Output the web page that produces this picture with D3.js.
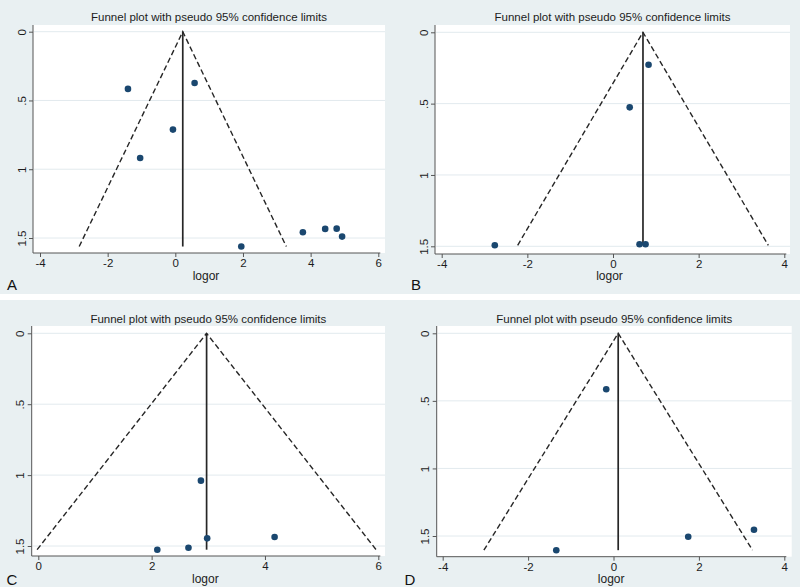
<!DOCTYPE html>
<html>
<head>
<meta charset="utf-8">
<script src="https://cdn.jsdelivr.net/npm/d3@7"></script>
<style>
  body { margin: 0; background: #fff; }
  svg { display: block; font-family: Arial, "Liberation Sans", sans-serif; }
</style>
</head>
<body>
<div id="chart"></div>
<script>
// values
var panelLabels = ["A", "B", "C", "D"];
var logorA = [-1.40, 0.57, -0.07, -1.04, 1.95, 3.77, 4.43, 4.77, 4.93];
var seA    = [0.416, 0.373, 0.712, 0.918, 1.562, 1.458, 1.434, 1.432, 1.490];
var logorB = [0.83, 0.39, -2.76, 0.62, 0.76];
var seB    = [0.227, 0.526, 1.493, 1.486, 1.486];
var logorC = [2.87, 2.98, 4.17, 2.65, 2.10];
var seC    = [1.039, 1.446, 1.437, 1.512, 1.526];
var logorD = [-0.17, -1.34, 1.75, 3.29];
var seD    = [0.414, 1.605, 1.505, 1.454];
var pooled = [0.22, 0.70, 2.97, 0.11];
var xTicksA = [-4, -2, 0, 2, 4, 6];
var xTicksB = [-4, -2, 0, 2, 4];
var xTicksC = [0, 2, 4, 6];
var xTicksD = [-4, -2, 0, 2, 4];
var yTicks = [0, 0.5, 1, 1.5];
var yTickLabels = ["0", ".5", "1", "1.5"];
var titleText = "Funnel plot with pseudo 95% confidence limits";
var xTitle = "logor";

var W = 800, H = 587;
var bg = "#e9f0f2", grid = "#e2eaee", ink = "#1c1c1c", dotColor = "#1a476f";

// panel geometry (pixels, local to each panel)
var layout = [
  {ox: 0,   oy: 0,   left: 33,   right: 385,   top: 25, bottom: 253,   xr: [40, 378.3],   yr: [31.7, 238], titleY: 17,   xtY: 276,   labX: 12, labY: 285},
  {ox: 400, oy: 0,   left: 35,   right: 390,   top: 25, bottom: 254,   xr: [41.7, 384.3], yr: [32.3, 246.3], titleY: 17, xtY: 276,   labX: 16, labY: 285},
  {ox: 0,   oy: 300, left: 31.7, right: 385,   top: 26, bottom: 256,   xr: [38.3, 378.3], yr: [33.3, 246], titleY: 19.3, xtY: 278.3, labX: 12, labY: 280},
  {ox: 400, oy: 300, left: 36.7, right: 391.7, top: 26, bottom: 256.7, xr: [42.7, 384.3], yr: [33.3, 236], titleY: 19.3, xtY: 278.3, labX: 10, labY: 280}
];
var panels = [
  {x: logorA, se: seA, xt: xTicksA},
  {x: logorB, se: seB, xt: xTicksB},
  {x: logorC, se: seC, xt: xTicksC},
  {x: logorD, se: seD, xt: xTicksD}
];

var svg = d3.select("#chart").append("svg")
  .attr("width", W).attr("height", H);

svg.append("rect").attr("width", W).attr("height", H).attr("fill", bg);
// thin white seam between the two rows
svg.append("rect").attr("x", 0).attr("y", 294).attr("width", W).attr("height", 6).attr("fill", "#fff");

panels.forEach(function(p, i) {
  var L = layout[i];
  var g = svg.append("g").attr("transform", "translate(" + L.ox + "," + L.oy + ")");
  var xt = p.xt;

  var x = d3.scaleLinear().domain([xt[0], xt[xt.length - 1]]).range(L.xr);
  var y = d3.scaleLinear().domain([0, 1.5]).range(L.yr);

  g.append("rect")
    .attr("x", L.left).attr("y", L.top)
    .attr("width", L.right - L.left).attr("height", L.bottom - L.top)
    .attr("fill", "#fff");

  // gridlines
  g.selectAll(".grid").data(yTicks).enter().append("line")
    .attr("x1", L.left + 1).attr("x2", L.right)
    .attr("y1", function(d) { return y(d); }).attr("y2", function(d) { return y(d); })
    .attr("stroke", grid).attr("stroke-width", 1);

  // funnel
  var pe = pooled[i];
  var maxSe = d3.max(p.se);
  var line = d3.line().x(function(d) { return x(d[0]); }).y(function(d) { return y(d[1]); });
  g.append("path")
    .attr("d", line([[pe - 1.96 * maxSe, maxSe], [pe, 0], [pe + 1.96 * maxSe, maxSe]]))
    .attr("fill", "none").attr("stroke", "#262626").attr("stroke-width", 1.4)
    .attr("stroke-dasharray", "5.5,3");
  g.append("path")
    .attr("d", line([[pe, 0], [pe, maxSe]]))
    .attr("fill", "none").attr("stroke", "#262626").attr("stroke-width", 1.7);

  // studies
  g.selectAll(".dot").data(d3.range(p.x.length)).enter().append("circle")
    .attr("cx", function(k) { return x(p.x[k]); })
    .attr("cy", function(k) { return y(p.se[k]); })
    .attr("r", 3.3).attr("fill", dotColor);

  // axes
  var xAxis = d3.axisBottom(x).tickValues(xt).tickSize(4).tickSizeOuter(0).tickPadding(2)
    .tickFormat(d3.format("d"));
  var gx = g.append("g").attr("transform", "translate(0," + L.bottom + ")").call(xAxis);
  gx.select(".domain").remove();
  gx.selectAll("line").attr("stroke", "#555");
  gx.selectAll("text").attr("fill", ink).style("font-size", "11.5px")
    .text(function(d) { return d < 0 ? "-" + Math.abs(d) : d; });
  g.append("line")
    .attr("x1", L.left).attr("x2", L.xr[1] + 2)
    .attr("y1", L.bottom).attr("y2", L.bottom)
    .attr("stroke", "#555").attr("stroke-width", 1);

  var yAxis = d3.axisLeft(y).tickValues(yTicks).tickSize(4).tickSizeOuter(0)
    .tickFormat(function(d, k) { return yTickLabels[k]; });
  var gy = g.append("g").attr("transform", "translate(" + L.left + ",0)").call(yAxis);
  gy.select(".domain").remove();
  gy.selectAll("line").attr("stroke", "#555");
  gy.selectAll("text")
    .attr("transform", "rotate(-90)")
    .attr("x", 0).attr("y", -7.3).attr("dy", null)
    .attr("text-anchor", "middle")
    .attr("fill", ink).style("font-size", "11.5px");
  g.append("line")
    .attr("x1", L.left).attr("x2", L.left)
    .attr("y1", L.top).attr("y2", L.bottom)
    .attr("stroke", "#555").attr("stroke-width", 1);

  var cx = (L.left + L.right) / 2;
  g.append("text").attr("x", cx).attr("y", L.titleY).attr("dy", "0.35em")
    .attr("text-anchor", "middle").attr("fill", ink).style("font-size", "11.5px")
    .text(titleText);
  g.append("text").attr("x", cx - 3).attr("y", L.xtY).attr("dy", "0.35em")
    .attr("text-anchor", "middle").attr("fill", ink).style("font-size", "12px")
    .text(xTitle);
  g.append("text").attr("x", L.labX).attr("y", L.labY).attr("dy", "0.35em")
    .attr("text-anchor", "middle").attr("fill", "#111").style("font-size", "15px")
    .text(panelLabels[i]);
});
</script>
</body>
</html>
